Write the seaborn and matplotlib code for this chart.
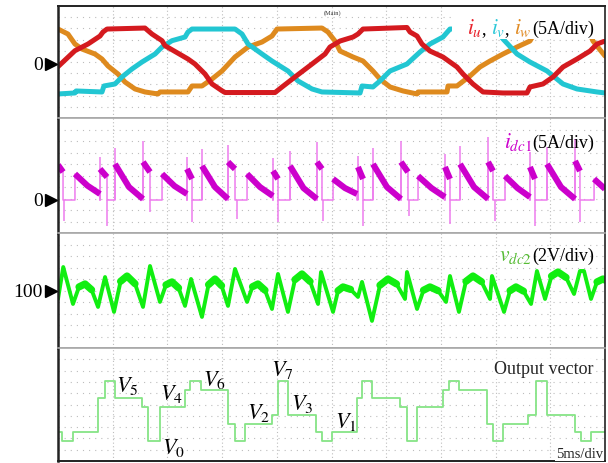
import numpy as np
import pandas as pd
import matplotlib
matplotlib.use("Agg")
import matplotlib.pyplot as plt
import matplotlib.transforms as mtransforms
from matplotlib.offsetbox import TextArea, HPacker, AnchoredOffsetbox
from matplotlib.patches import Rectangle
import seaborn as sns

# ---------------- data (time in ms, 5 ms/div; amplitudes in grid divisions) ----------------
t_u = [0, 1.55, 2.74, 3.84, 4.11, 4.48, 7.95, 8.59, 9.51, 9.78, 11.88, 12.52, 13.44, 14.08, 14.99,
       15.27, 19.84, 20.48, 21.66, 23.22, 24.41, 24.86, 25.78, 26.97, 27.42, 27.88, 31.90, 32.18,
       32.82, 33.27, 34.00, 35.19, 36.47, 37.02, 37.93, 38.85, 40.68, 42.87, 43.14, 44.33, 45.25,
       46.16, 47.44, 48.63, 49.27, 50.0]
i_u = [-0.24, 1.20, 1.80, 2.52, 2.88, 3.15, 3.24, 2.70, 2.10, 1.65, 0.45, 0, -0.90, -1.80, -2.41,
       -2.57, -2.57, -2.07, -1.17, 0, 0.90, 1.53, 2.07, 2.43, 2.70, 3.15, 3.29, 2.88, 2.52, 1.80,
       1.17, 0.63, -0.27, -0.90, -1.80, -2.52, -2.61, -2.61, -2.07, -1.80, -1.17, -0.27, 0.45,
       1.17, 1.80, 2.07]

t_v = [0, 1.55, 1.65, 4.02, 4.20, 5.21, 5.85, 6.76, 7.68, 8.87, 9.51, 10.42, 11.61, 11.88, 12.25,
       16.18, 16.82, 17.37, 18.65, 19.56, 21.02, 21.94, 23.22, 24.13, 27.61, 27.79, 28.79, 29.43,
       30.35, 31.90, 33.09, 34.00, 35.19, 35.83, 39.95, 40.68, 41.96, 43.14, 44.70, 46.16, 47.44,
       49.27, 50.0]
i_v = [-2.70, -2.61, -2.43, -2.52, -1.98, -1.80, -1.17, -0.45, 0.18, 0.90, 1.53, 2.10, 2.43, 2.88,
       3.15, 3.15, 2.70, 1.80, 0.90, 0.27, -0.63, -1.53, -2.25, -2.52, -2.61, -1.98, -2.07, -1.53,
       -0.63, 0, 1.08, 1.80, 2.43, 3.15, 3.15, 2.25, 0.90, 0.18, -0.63, -1.80, -2.25, -2.52, -2.61]

t_w = [0, 0.91, 1.55, 2.19, 3.38, 4.02, 4.57, 5.48, 6.12, 7.04, 7.95, 9.14, 9.32, 11.88, 12.25,
       13.16, 14.08, 14.99, 16.18, 17.37, 18.65, 19.56, 20.02, 24.13, 24.68, 25.32, 25.78, 26.97,
       27.88, 28.79, 29.43, 30.35, 31.54, 32.82, 32.91, 35.56, 35.65, 36.47, 37.66, 38.57, 39.49,
       40.68, 41.96, 43.14, 43.78, 48.45, 48.90, 50.0]
i_w = [3.15, 2.70, 1.80, 1.35, 0.90, 0.45, -0.18, -0.90, -1.62, -2.25, -2.52, -2.70, -2.52, -2.52,
       -1.98, -1.98, -1.35, -0.63, 0.63, 1.53, 1.98, 2.52, 3.15, 3.24, 2.88, 2.07, 1.17, 0.63, 0.27,
       -0.63, -1.35, -2.07, -2.43, -2.70, -2.52, -2.52, -1.98, -1.98, -1.08, -0.27, 0.27, 0.90,
       1.53, 2.07, 3.15, 3.15, 2.07, 0.72]

# i_dc1 conducting segments: start / end time, start / middle / end level
dc1_t0 = [0.00, 1.55, 3.84, 5.21, 7.77, 9.51, 11.79, 13.16, 15.54, 17.28, 19.65, 21.21, 23.67,
          25.14, 27.42, 28.79, 31.35, 32.91, 35.37, 36.75, 39.31, 40.86, 43.14, 44.70, 47.26, 49.00]
dc1_t1 = [0.46, 3.84, 4.48, 7.77, 8.41, 11.79, 12.25, 15.54, 16.18, 19.65, 20.11, 23.67, 24.13,
          27.33, 27.88, 31.35, 31.99, 35.37, 35.83, 39.31, 39.76, 43.14, 43.60, 47.26, 47.71, 50.00]
dc1_v0 = [3.08, 2.29, 2.73, 3.16, 3.34, 2.29, 2.73, 2.99, 3.34, 2.29, 2.55, 2.99, 3.34,
          1.85, 2.90, 3.16, 3.34, 2.11, 2.90, 3.16, 3.34, 2.11, 2.90, 3.16, 3.43, 1.85]
dc1_vm = [2.77, 1.26, 2.37, 1.14, 2.90, 1.23, 2.29, 1.14, 3.03, 1.14, 2.20, 1.05, 3.03,
          1.05, 2.37, 1.14, 2.90, 1.05, 2.37, 1.14, 2.95, 1.05, 2.37, 1.14, 2.99, 1.41]
dc1_v1 = [2.46, 0.53, 2.02, 0.09, 2.46, 0.53, 1.85, 0.09, 2.73, 0.35, 1.85, 0.09, 2.73,
          0.53, 1.85, 0.09, 2.46, 0.26, 1.85, 0.09, 2.55, 0.26, 1.85, 0.09, 2.55, 0.97]
# switching spikes
dc1_spk_t = [0.55, 3.84, 4.48, 5.21, 7.77, 8.41, 11.79, 12.25, 13.16, 15.54, 16.36, 19.65, 20.11,
             21.21, 23.67, 24.22, 27.42, 27.88, 28.79, 31.35, 32.08, 35.37, 35.83, 36.75, 39.31,
             39.95, 43.14, 43.60, 44.70, 47.26, 47.71]
dc1_spk_v = [-1.85, 3.78, -2.29, 4.57, 5.19, -1.05, 3.78, -1.93, 4.48, 4.84, -1.67, 3.69, -1.93,
             4.31, 5.10, -1.85, 3.87, -2.29, 4.57, 5.19, -1.41, 4.04, -2.11, 4.75, 5.54, -1.85,
             4.22, -2.29, 4.66, 5.36, -1.93]

# v_dc2 (V, 1 grid row = 1 V)
t_dc2 = [0, 0.48, 1.37, 1.92, 2.47, 3.07, 3.66, 4.30, 5.12, 5.72, 6.31, 7.04, 7.77, 8.41, 9.32,
         9.87, 10.42, 11.02, 11.61, 12.16, 13.16, 13.76, 14.35, 14.95, 15.54, 16.18, 17.28,
         17.78, 18.28, 18.92, 19.56, 20.11, 21.02, 21.66, 22.30, 23.04, 23.77, 24.04, 25.14,
         25.60, 26.05, 26.74, 27.42, 27.79, 28.70, 29.43, 30.16, 30.94, 31.72, 31.90, 32.82,
         33.41, 34.00, 34.74, 35.47, 35.83, 36.65, 37.29, 37.93, 38.71, 39.49, 39.67, 40.77,
         41.32, 41.86, 42.55, 43.24, 43.78, 44.52, 45.11, 45.70, 46.44, 47.17, 47.71, 48.08,
         48.72, 49.27, 49.82, 50.0]
v_dc2 = [99.34, 102.15, 98.90, 100.40, 100.66, 100.15, 98.64, 101.27, 98.20, 100.89, 101.36,
         100.68, 98.64, 102.24, 99.08, 100.58, 100.84, 100.31, 98.73, 101.10, 97.76, 100.60,
         101.10, 100.51, 98.73, 101.98, 99.08, 100.42, 100.66, 100.11, 98.46, 101.54, 98.20,
         101.04, 101.54, 100.88, 98.90, 101.71, 98.20, 100.07, 100.40, 100.18, 99.52, 100.84,
         97.41, 100.55, 101.10, 100.66, 99.34, 101.71, 98.46, 100.11, 100.40, 100.07, 99.08,
         101.36, 98.20, 100.89, 101.36, 100.86, 99.34, 101.36, 98.20, 100.07, 100.40, 100.03,
         98.90, 101.80, 99.34, 101.35, 101.71, 101.23, 99.78, 101.80, 101.80, 99.34, 100.84,
         101.10, 101.0]
# time spans of the rounded (ripple-thick) humps of v_dc2
hump_t0 = [1.92, 5.72, 9.87, 13.76, 17.78, 21.66, 25.60, 29.43, 33.41, 37.29, 41.32, 45.11, 49.27]
hump_t1 = [3.07, 7.04, 11.02, 14.95, 18.92, 23.04, 26.74, 30.94, 34.74, 38.71, 42.55, 46.44, 50.0]

# output voltage vector index (0..7)
vec_t = [0, 0.39, 1.40, 3.68, 4.30, 5.21, 7.71, 8.25, 9.32, 11.61, 12.07, 13.07, 15.57, 16.18,
         17.09, 19.53, 20.08, 21.00, 23.56, 24.10, 25.02, 27.30, 27.76, 28.67, 31.26, 31.87,
         32.84, 35.22, 35.74, 36.68, 39.19, 39.79, 40.70, 42.99, 43.69, 44.73, 47.26, 47.78,
         48.69, 50.0]
vec_k = [1, 0, 1, 5, 7, 5, 4, 0, 4, 6, 7, 6, 2, 0, 2, 3, 7, 3, 1, 0, 1, 5, 7, 5, 4, 0, 4, 6, 7, 6,
         2, 0, 2, 3, 7, 3, 1, 0, 1, 1]

vec_labels = ["$V_5$", "$V_4$", "$V_0$", "$V_6$", "$V_2$", "$V_7$", "$V_3$", "$V_1$"]

# ---------------- style ----------------
sns.set_theme(style="white")
plt.rcParams["font.family"] = ["Liberation Serif", "DejaVu Serif"]
plt.rcParams["mathtext.fontset"] = "stix"

W, H = 608, 464
fig = plt.figure(figsize=(W / 100, H / 100), dpi=100)


def fx(x):
    return x / W


def fy(y):
    return 1 - y / H


L, R = 58, 605
panels_px = [(7, 119), (119, 234), (234, 349), (349, 462)]
ylims = [(-4.865, 5.225), (-2.90, 7.21), (95.03, 105.14), (-2.39, 10.91)]
axes = []
for i, ((top, bot), yl) in enumerate(zip(panels_px, ylims)):
    ax = fig.add_axes([fx(L), fy(bot), (R - L) / W, (bot - top) / H])
    ax.set_xlim(0, 50)
    ax.set_ylim(*yl)
    ax.set_xticks(np.arange(5, 50, 5))
    ax.set_yticks(np.linspace(yl[0], yl[1], 11)[1:-1])
    ax.tick_params(length=0, labelbottom=False, labelleft=False)
    ax.grid(axis="x", color="#bdbdbd", linestyle=(0, (1, 2.2)), linewidth=0.8)
    ax.grid(axis="y", color="#bdbdbd", linestyle=(0, (1, 4.5)), linewidth=0.8)
    ax.set_axisbelow(True)
    ax.set_facecolor("white")
    for s in ax.spines.values():
        s.set_zorder(10)
    ax.spines["left"].set_color("#222222")
    ax.spines["left"].set_linewidth(1.8)
    ax.spines["right"].set_color("#222222")
    ax.spines["right"].set_linewidth(1.2)
    ax.spines["top"].set_color("#222222" if i == 0 else "#a8a8a8")
    ax.spines["top"].set_linewidth(1.4 if i == 0 else 1.2)
    ax.spines["bottom"].set_color("#222222" if i == 3 else "#a8a8a8")
    ax.spines["bottom"].set_linewidth(1.4 if i == 3 else 1.2)
    axes.append(ax)

ax1, ax2, ax3, ax4 = axes

# ---- panel 1: phase currents
sns.lineplot(x=t_w, y=i_w, ax=ax1, color="#de8a1e", lw=3.6, sort=False, estimator=None)
sns.lineplot(x=t_v, y=i_v, ax=ax1, color="#22c6d2", lw=3.6, sort=False, estimator=None)
sns.lineplot(x=t_u, y=i_u, ax=ax1, color="#d41a1f", lw=3.6, sort=False, estimator=None)
ax1.add_patch(Rectangle((0.72, 0.705), 0.28, 0.295, transform=ax1.transAxes,
                        facecolor="white", edgecolor="none", zorder=5))

# ---- panel 2: dc-link current
thin_x, thin_y, seg_rows = [], [], []
for k in range(len(dc1_t0)):
    tm = 0.5 * (dc1_t0[k] + dc1_t1[k])
    if k > 0:
        thin_x.append(dc1_t0[k]); thin_y.append(0)
    thin_x += [dc1_t0[k], tm, dc1_t1[k]]
    thin_y += [dc1_v0[k], dc1_vm[k], dc1_v1[k]]
    if k < len(dc1_t0) - 1:
        thin_x.append(dc1_t1[k]); thin_y.append(0)
    seg_rows += [(k, dc1_t0[k], dc1_v0[k]), (k, tm, dc1_vm[k]), (k, dc1_t1[k], dc1_v1[k])]
seg_df = pd.DataFrame(seg_rows, columns=["seg", "t", "v"])

sns.lineplot(x=thin_x, y=thin_y, ax=ax2, color="#ee7cee", lw=1.1, sort=False, estimator=None)
ax2.vlines(dc1_spk_t, 0, dc1_spk_v, color="#ee7cee", lw=1.1)
sns.lineplot(data=seg_df, x="t", y="v", units="seg", estimator=None, sort=False, ax=ax2,
             color="#cc00cc", lw=4.4, solid_capstyle="butt")

# ---- panel 3: dc voltage (thin ripple edges, thick rounded humps)
dc2_df = pd.DataFrame({"t": t_dc2, "v": v_dc2})
sns.lineplot(data=dc2_df, x="t", y="v", ax=ax3, color="#11ee11", lw=2.8, sort=False,
             estimator=None)
hump_rows = []
for k, (a, b) in enumerate(zip(hump_t0, hump_t1)):
    sub = dc2_df[(dc2_df.t >= a) & (dc2_df.t <= b)]
    hump_rows += [(k, tt, vv) for tt, vv in zip(sub.t, sub.v)]
hump_df = pd.DataFrame(hump_rows, columns=["hump", "t", "v"])
sns.lineplot(data=hump_df, x="t", y="v", units="hump", estimator=None, sort=False, ax=ax3,
             color="#11ee11", lw=5.2)

# ---- panel 4: output vector
sns.lineplot(x=vec_t, y=vec_k, ax=ax4, color="#86e486", lw=1.3, sort=False, estimator=None,
             drawstyle="steps-post")

for ax in axes:
    ax.set_xlabel("")
    ax.set_ylabel("")

# ---- zero markers on the left
for ax, lvl, txt, ypx in [(ax1, 0, "0", 65), (ax2, 0, "0", 201), (ax3, 100, "100", 292.5)]:
    tr = mtransforms.blended_transform_factory(ax.transAxes, ax.transData)
    ax.plot([-7.5 / (R - L)], [lvl], marker=">", ms=8.5, color="black", transform=tr,
            clip_on=False, zorder=12)
    fig.text(fx(43), fy(ypx), txt, ha="right", va="center", fontsize=14, color="black")


# ---- panel labels
def colored_label(parts, x, y):
    boxes = [TextArea(s, textprops=dict(color=c, fontsize=fs)) for s, c, fs in parts]
    hp = HPacker(children=boxes, align="baseline", pad=0, sep=0)
    ab = AnchoredOffsetbox(loc="lower right", child=hp, pad=0, borderpad=0, frameon=False,
                           bbox_to_anchor=(fx(x), fy(y)), bbox_transform=fig.transFigure)
    ab.set_zorder(20)
    fig.add_artist(ab)


colored_label([("$i_u$", "#e8202a", 15.5), (", ", "black", 13), ("$i_v$", "#2cc8d8", 15.5),
               (", ", "black", 13), ("$i_w$", "#e08a22", 15.5), ("(5A/div)", "black", 13)],
              594, 39)
colored_label([("$i_{dc1}$", "#cc00cc", 15.5), ("(5A/div)", "black", 13)], 594, 153)
colored_label([("$v_{dc2}$", "#55bb33", 15.5), ("(2V/div)", "black", 13)], 594, 266)

fig.text(fx(594), fy(370), "Output vector", ha="right", va="center", fontsize=13,
         bbox=dict(facecolor="white", edgecolor="none", pad=1))
fig.text(fx(603), fy(455), "5ms/div", ha="right", va="center", fontsize=10.5,
         bbox=dict(facecolor="white", edgecolor="none", pad=0.5))
fig.text(fx(333), fy(13), "(Main)", ha="center", va="center", fontsize=4.5, color="#333333")

lab_pos = [(127, 386), (171, 394), (173, 448), (214, 380), (259, 413), (282, 370), (302, 404),
           (346, 422)]
for s, (x, y) in zip(vec_labels, lab_pos):
    fig.text(fx(x), fy(y), s, ha="center", va="center", fontsize=16, color="black")

fig.savefig("out.png", dpi=100)
